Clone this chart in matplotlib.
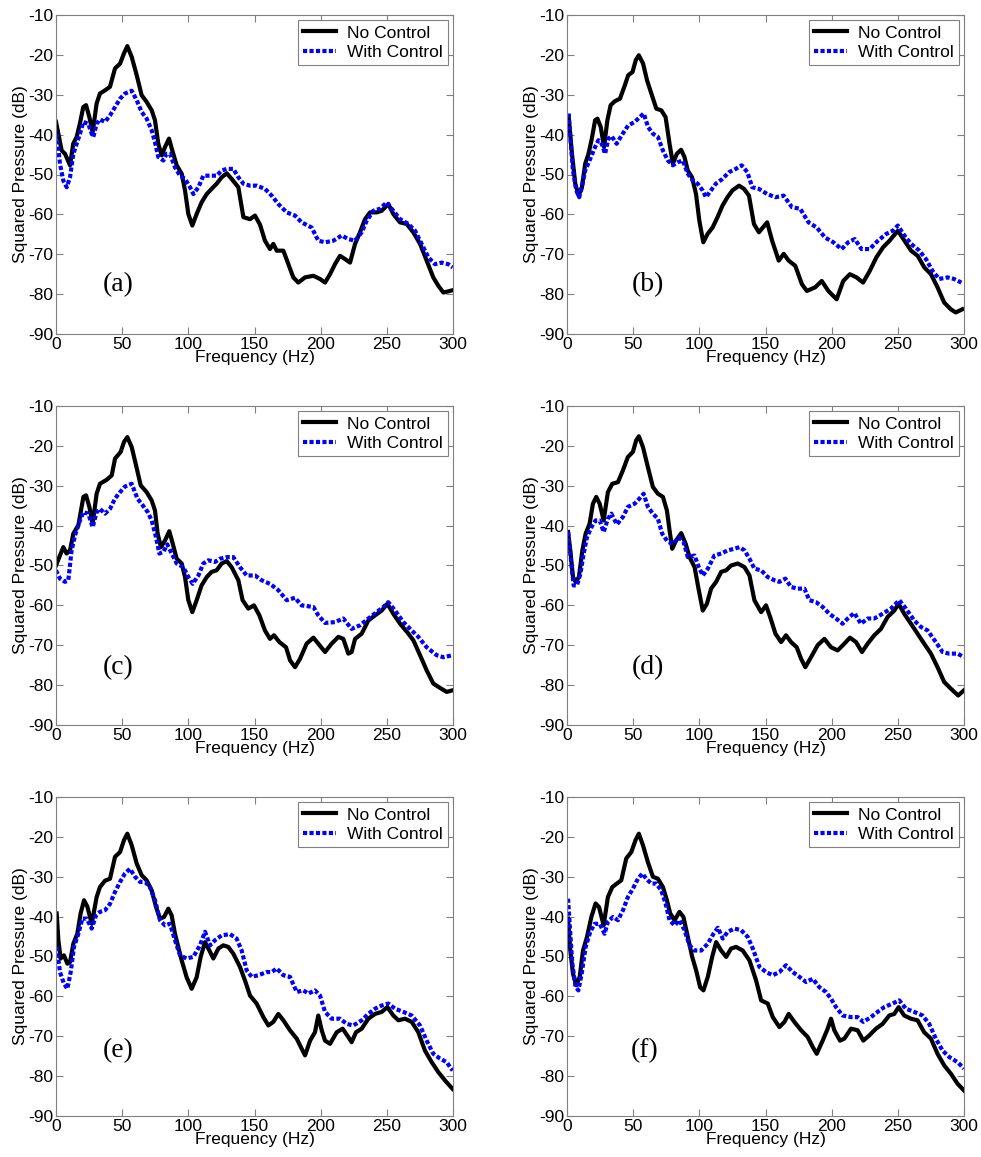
import matplotlib
matplotlib.use('Agg')
import matplotlib.pyplot as plt

# Squared pressure spectra, without and with active control, for six cases

# (a)
a_nc_f = [0, 4.3, 6.8, 10.6, 13, 15.6, 18, 20.6, 22.7, 25.2, 27.7, 30.7, 33.2, 37, 40.8, 44.6, 48.4, 51.4, 53.9, 57.2,
          61, 64.7, 68.5, 72.3, 74.8, 77.3, 79.9, 82.4, 85.4, 87.9, 91.2, 95, 97.5, 100, 103, 106.3, 110, 113.9, 117.6,
          121.4, 125.2, 129, 132.7, 137.8, 141.6, 146.6, 150.4, 154.2, 157.9, 161.7, 164.2, 166.8, 171.8, 175.6, 179.3,
          183.1, 188.2, 194.5, 199.5, 203.3, 207.1, 210.8, 214.6, 218.4, 222.2, 226, 229.7, 233.5, 237.3, 242.3, 246.1,
          251.1, 254.9, 259.9, 265, 270, 275.1, 280.1, 285.1, 288.9, 292.7, 297.7, 300]
a_nc_db = [-36.8, -44, -44.8, -47.7, -42.3, -40.6, -37.3, -33.1, -32.6, -35.6, -39.4, -32.2, -29.7, -28.9, -28, -23.4,
           -22.2, -19.6, -17.8, -20.5, -25.1, -30.1, -31.8, -33.9, -36.4, -42.3, -45.2, -43.1, -41, -44, -47.7, -49.8,
           -54, -59.9, -62.8, -59.9, -57, -54.9, -53.6, -52.3, -50.7, -49.7, -51.1, -53.2, -60.7, -61.2, -60.3, -62.6,
           -66.6, -68.7, -67.4, -69.1, -69.1, -72.5, -75.8, -77.1, -75.8, -75.4, -76.2, -77.1, -75, -72.5, -70.4,
           -71.2, -72.1, -67.4, -64.5, -61.2, -59.5, -59.5, -59.1, -57.4, -59.9, -62, -62.4, -64.5, -67.4, -71.6,
           -75.8, -77.9, -79.6, -79.2, -79]
a_wc_f = [0.5, 3, 5.5, 8.1, 10.6, 13.1, 15.6, 18.1, 20.7, 24.4, 27, 28.2, 30.7, 33.2, 37, 40.8, 44.6, 48.4, 52.1, 57.2,
          61, 64.7, 68.5, 72.3, 74.8, 77.3, 81.1, 83.6, 86.1, 89.9, 93.7, 97.5, 101.3, 103.8, 107.6, 111.3, 116.4,
          121.4, 125.2, 129, 134, 137.8, 141.6, 146.6, 151.6, 157.9, 163, 168, 174.3, 180.6, 185.6, 193.2, 198.2,
          203.3, 209.6, 215.9, 220.9, 226, 231, 234.8, 239.8, 244.8, 249.9, 254.9, 260, 266.3, 271.3, 276.3, 281.4,
          286.4, 291.4, 296.5, 299.8]
a_wc_db = [-39.8, -47.3, -51.5, -53.2, -50.7, -44.8, -42.3, -39.8, -36.8, -37.3, -39.8, -40.6, -37.3, -36.2, -36.8,
           -35.2, -33.1, -31, -29.7, -29, -31.4, -34.3, -36, -38.9, -41.9, -45.6, -46.5, -44.8, -44.8, -48.2, -50.3,
           -51.1, -53.2, -54.9, -53.2, -50.3, -50.3, -50.3, -49, -48.6, -48.6, -50.7, -52.3, -52.8, -52.8, -53.6,
           -55.3, -57.4, -59.5, -60.3, -62, -63.3, -66.6, -67, -66.6, -65.3, -66.2, -66.6, -64.5, -61.6, -59.1, -58.6,
           -57, -59.1, -61.2, -62.4, -64.1, -67.4, -70.8, -72.5, -72.1, -72.5, -73.3]

# (b)
b_nc_f = [1.25, 3.75, 6.25, 8.75, 11.25, 13.75, 16.25, 18.75, 21.25, 23, 25.5, 28, 30.5, 33, 36.25, 40, 43.75, 46.25,
          49.5, 52, 54.25, 57.5, 60.5, 63.75, 67.5, 71.25, 74.5, 77.5, 80, 83, 86.25, 88.75, 91.25, 94.5, 97.5, 100,
          103, 106.25, 110, 113.75, 117.5, 121.25, 125, 130, 133.75, 137.5, 141.25, 145, 151.25, 155, 160, 163.75,
          167.5, 172.5, 177.5, 181.25, 187.5, 192.5, 197.5, 203.75, 208.75, 213.75, 218.75, 223.75, 228.75, 233.75,
          238.75, 243.75, 250, 255, 260, 265, 270, 275, 280, 285, 290, 293.75, 298.75]
b_nc_db = [-35.5, -44.8, -52.3, -55.3, -53.2, -47.3, -44.8, -41, -36.4, -36, -38.1, -43.1, -36.4, -32.6, -31.6, -31,
           -27.6, -25.1, -24.3, -21.3, -20.1, -22.2, -26.4, -29.7, -33.5, -33.9, -35.6, -42.3, -47.3, -44.8, -43.8,
           -45.6, -49, -50.7, -54.9, -61.6, -67, -64.9, -63.3, -60.7, -57.8, -55.7, -54, -52.8, -53.6, -55.3, -62.4,
           -64.5, -62, -66.6, -71.6, -69.9, -71.6, -72.9, -77.5, -79.2, -78.3, -76.7, -79.2, -81.3, -76.7, -75, -75.8,
           -77.1, -74.2, -70.8, -68.3, -66.6, -64.1, -66.6, -69.1, -70.4, -73.3, -75, -78.3, -82.1, -83.8, -84.6,
           -83.8]
b_wc_f = [1.25, 2.5, 4.5, 7, 9.25, 11.25, 13.75, 17.5, 21.25, 23.75, 26.25, 28.75, 31.25, 33.75, 37.5, 41.25, 46.25,
          51.25, 55, 58, 61.25, 65, 68.75, 72.5, 76.25, 80, 83.75, 87.5, 91.25, 95, 98.75, 102.5, 105, 108.75, 112.5,
          117.5, 122.5, 127.5, 132, 136.25, 140, 145, 151.25, 157.5, 163.75, 170, 176.25, 182.5, 188.75, 195, 201.25,
          207.5, 212.5, 217.5, 222.5, 228.75, 235, 241.25, 246.25, 250, 255, 260, 266.25, 271.25, 276.25, 281.25,
          287.5, 292.5, 298]
b_wc_db = [-34.7, -40.6, -49, -54, -55.7, -53.2, -49, -46.1, -43.1, -41.4, -42.3, -44.8, -41, -40.4, -42.3, -40.2,
           -37.7, -36.8, -35.6, -34.7, -38.1, -39.8, -40.6, -44, -46.5, -47.7, -46.9, -46.5, -49.8, -51.5, -52.3, -54,
           -55.7, -54, -52.3, -51.1, -49.4, -48.6, -47.7, -49.4, -53.2, -53.6, -54.9, -55.7, -55.3, -58.2, -58.6, -62,
           -63.3, -65.8, -67, -68.7, -67, -66.2, -68.7, -68.7, -66.6, -64.9, -64.1, -62.8, -65.3, -67.4, -69.1, -71.2,
           -74.2, -76.2, -75.8, -76.2, -77.1]

# (c)
c_nc_f = [0, 2.5, 5.5, 8, 10.6, 13.1, 16.9, 20.7, 22.7, 25.2, 27.7, 30.7, 33.2, 38.3, 42.1, 44.6, 48.9, 51.4, 53.9,
          57.2, 60.5, 64, 68.5, 72.3, 74.8, 76.8, 79.3, 82.4, 85.6, 88.2, 91.2, 95, 97.5, 100, 103, 106.3, 110, 113.9,
          117.6, 121.4, 125.2, 129, 132.7, 137.8, 141, 145.3, 149.6, 153.7, 157.9, 161.7, 164.7, 168.8, 173.8, 176.9,
          180.6, 184.4, 189.4, 194.5, 198.2, 203.3, 208.3, 213.4, 217.1, 220.9, 223.4, 226, 231, 236, 241.1, 246.1,
          250.4, 254.9, 260, 266.3, 270.1, 275.1, 280.1, 285.1, 290.2, 295.2, 299.7]
c_nc_db = [-50, -47.9, -45.4, -47, -46.2, -42, -39.9, -32.8, -32.4, -35.3, -39.5, -32, -29.5, -28.5, -27.4, -23.2,
           -21.5, -19, -17.8, -20.3, -24.9, -29.9, -31.6, -33.7, -36.2, -42, -45.4, -43.7, -41.4, -44.5, -48.3, -49.5,
           -52.9, -58.7, -61.7, -58.7, -55, -52.9, -51.6, -51.2, -49.5, -48.9, -50.4, -53.7, -58.7, -60.8, -60, -62.5,
           -66.3, -68.4, -67.5, -69.2, -70.5, -73.8, -75.5, -73.4, -69.6, -68.1, -69.6, -71.7, -69.6, -67.9, -68.4,
           -72.1, -71.7, -68.4, -67.1, -63.8, -62.5, -61.3, -59.6, -62.1, -64.6, -67.1, -68.8, -72.5, -76.3, -79.6,
           -80.7, -81.7, -81.3]
c_wc_f = [0, 3, 6.8, 9.3, 11.8, 14.4, 18.1, 20.7, 24.4, 27.7, 30.7, 33.2, 37, 40.8, 44.6, 48.4, 52.1, 57.2, 61.5,
          65.5, 69.3, 72.3, 75.6, 78.1, 81.1, 84.1, 87.4, 91.2, 96.2, 100, 103.3, 107.6, 111.3, 115.1, 120.2, 123.9,
          129, 134, 139, 144.1, 150.4, 155.4, 161.7, 168, 174.3, 180.6, 185.6, 194.5, 198.2, 203.3, 210.8, 217.1,
          223.4, 229.7, 236, 242.3, 247.4, 251.1, 256.2, 262.5, 268.8, 273.8, 280.1, 287.7, 292.7, 299.7]
c_wc_db = [-51.2, -53.3, -54.1, -53.7, -46.2, -42.4, -38.7, -36.6, -37, -40.4, -36.6, -35.8, -37, -35.8, -33.2,
           -31.6, -30.2, -29.5, -33.2, -34.9, -36.6, -38.7, -42.9, -47, -46.6, -44.7, -47, -49.5, -50.4, -52.9, -54.6,
           -52.5, -49.5, -48.7, -49.1, -48.3, -47.9, -47.9, -50.4, -52.5, -52.5, -53.7, -54.6, -56.2, -58.7, -58.1,
           -60, -60.4, -62.5, -64.4, -64.2, -63.3, -65.9, -65, -63.3, -61.7, -60.4, -59.2, -61.3, -64.2, -66.3, -67.9,
           -70.5, -72.5, -73, -72.5]

# (d)
d_nc_f = [0.8, 2.5, 4.5, 6.5, 9, 11.6, 14.1, 17.1, 19.6, 22.1, 24.7, 27.7, 30.9, 34.2, 38.5, 42.3, 46, 49.8, 52.3,
          54.3, 57.4, 61.1, 64.9, 68.7, 72.5, 75.5, 77.5, 79.5, 82.5, 86.3, 89.6, 92.6, 96.4, 99.6, 102.6, 105.7,
          108.9, 112.7, 116.5, 120.3, 124, 129, 134.1, 137.9, 141.6, 146.7, 150.4, 153.5, 157.5, 161.8, 165.5, 169.3,
          173.6, 176.9, 180.1, 184.4, 189.4, 194.5, 199.5, 204.5, 209.6, 213.8, 218.4, 222.9, 227.2, 232.2, 237.2,
          242.3, 247.3, 250.6, 254.8, 259.9, 264.9, 269.9, 275, 280, 285, 290.1, 295.6, 300]
d_nc_db = [-41.6, -46.2, -52.9, -54.1, -52.9, -46.2, -42, -39.5, -34.5, -32.8, -34.5, -38.7, -31.6, -29.5, -29.1,
           -26.1, -22.8, -21.5, -18.6, -17.6, -20.3, -25.3, -30.3, -32, -32.8, -36.2, -41.2, -45.8, -43.7, -41.9,
           -44.5, -47.9, -50.4, -56.2, -61.3, -59.6, -55.8, -54.1, -51.6, -51.2, -50, -49.5, -50.4, -52.5, -58.7,
           -61.7, -60, -62.9, -67.1, -69.2, -67.5, -69.2, -70.5, -73.4, -75.5, -73, -70, -68.4, -70.5, -71.3, -69.6,
           -68.1, -69.2, -71.7, -69.6, -67.5, -65.9, -62.9, -61.3, -59.6, -62.1, -64.6, -67.1, -69.6, -72.1, -75.5,
           -79.2, -80.9, -82.6, -81.3]
d_wc_f = [0.8, 2.8, 5, 7.5, 10.1, 12.6, 15.1, 18.4, 21.6, 24.7, 27.7, 30.9, 33.5, 37.7, 42.3, 46, 51.1, 54.8, 57.9,
          61.1, 64.9, 68.7, 71.9, 76.2, 80.5, 84.5, 88.1, 91.3, 96.4, 99.6, 102.6, 106.4, 111.4, 116.5, 121.5, 126.5,
          130.3, 134.1, 137.9, 141.6, 146.7, 151.7, 156.7, 160.5, 165, 169.3, 174.3, 179.4, 183.1, 188.2, 193.2,
          198.2, 203.3, 208.3, 212.1, 217.1, 222.1, 227.2, 232.2, 238.5, 244.8, 251.1, 256.1, 262.4, 267.4, 272.5,
          278.7, 283.8, 288.8, 295.1, 300]
d_wc_db = [-41.6, -47.9, -55, -55, -52.1, -47, -42.9, -40.4, -38.7, -38.7, -41.6, -38.3, -37, -39.7, -37.8, -35.3,
           -34.5, -33.2, -32, -35.3, -37, -38.3, -42, -44.1, -44.5, -42.9, -44.1, -47.9, -47.5, -50.4, -52.5, -50.8,
           -47.5, -47, -46.2, -45.8, -45.4, -46.2, -48.3, -50.8, -51.2, -52.9, -53.7, -54.1, -53.3, -55.4, -55.8,
           -55.8, -58.7, -59.2, -60.4, -62.1, -63.3, -64.6, -63.3, -61.9, -64.6, -63.3, -63.3, -62.1, -60.8, -58.7,
           -60.8, -63.8, -65.4, -66.3, -69.2, -71.7, -72.1, -72.1, -73]

# (e)
e_nc_f = [0.5, 1.8, 3.5, 6, 8.6, 10.6, 13.1, 16.1, 18.6, 21.2, 23.7, 27, 30.7, 33.2, 37, 40.8, 44.6, 48.4, 51.4,
          53.9, 57.2, 61, 64.7, 68.5, 72.3, 75.6, 78.6, 81.6, 84.9, 87.4, 89.9, 92.4, 95, 98.7, 102.5, 106.3, 109.3,
          112.6, 115.9, 118.9, 122.7, 126.4, 130.2, 134, 139, 142.8, 146.6, 151.6, 156.7, 160.5, 164.2, 168, 171.8,
          176.8, 181.9, 185.6, 188.2, 192, 195.7, 198.2, 200.8, 203.3, 207.1, 212.1, 216.6, 220.9, 223.4, 226.7, 231,
          236, 241.1, 246.1, 250.4, 254.9, 258.7, 263.7, 268.8, 273.8, 278.8, 283.9, 288.9, 294, 299.7]
e_nc_db = [-39.2, -45.9, -50.5, -49.7, -51.8, -51.4, -46.8, -44.3, -39.2, -35.9, -37.5, -41.8, -35.1, -32.6, -31,
           -30.5, -25, -23.8, -20.8, -19.2, -22.1, -26.7, -29.6, -30.9, -33.4, -37.6, -40.5, -40.1, -38, -39.7, -44.3,
           -47.6, -51, -55.2, -58.1, -55.2, -50.1, -46.4, -48.5, -50.5, -48, -47.2, -47.6, -49.3, -52.6, -56, -59.8,
           -61.8, -65.2, -67.3, -66.4, -64.4, -66, -68.5, -70.6, -73.1, -74.8, -71.1, -69, -64.8, -68.5, -71.1, -71.9,
           -69, -68.1, -70.2, -71.5, -69, -68.1, -65.6, -64.4, -63.9, -62.7, -64.8, -66, -65.6, -66.4, -69, -73.6,
           -76.5, -79, -81.1, -83.2]
e_wc_f = [0.5, 3, 6, 8.6, 11.1, 13.6, 16.9, 19.9, 23.2, 27, 30.2, 33.2, 37, 40.8, 44.6, 48.4, 52.1, 55.9, 59.7,
          63.5, 67.3, 71, 74.8, 78.6, 82.4, 86.1, 89.9, 93.7, 98.7, 103.8, 108.8, 112.6, 116.4, 120.2, 125.2, 131.5,
          136.5, 140.3, 144.1, 147.9, 152.9, 159.2, 163, 166.8, 171.8, 176.8, 181.9, 186.9, 190.7, 195.7, 199.5,
          203.3, 208.3, 214.6, 219.7, 224.7, 231, 236, 241.1, 246.1, 251.1, 256.2, 262.5, 268.8, 275.1, 280.1, 285.1,
          290.2, 295.2, 299.7]
e_wc_db = [-47.6, -53.9, -56.8, -58.1, -53.9, -47.6, -44.3, -40.5, -40.5, -43, -39.7, -38.8, -38.4, -36.8, -33.8,
           -31.3, -29.2, -28, -30, -31.3, -31.3, -32.6, -35.9, -40.9, -42.2, -41.8, -45.9, -49.7, -50.5, -50.1, -47.2,
           -43.8, -47.2, -45.9, -44.7, -44.4, -45.5, -48.5, -53.5, -55.1, -54.7, -53.9, -53.9, -53, -54.7, -55.1,
           -58.9, -58.5, -59.3, -58.5, -59.8, -63.9, -65.6, -65.6, -66.9, -67.3, -66, -64.4, -63.1, -62.3, -61.8,
           -63.1, -63.9, -64.8, -67.3, -71.1, -74.4, -75.6, -76.5, -78.6]

# (f)
f_nc_f = [0.8, 2.5, 4.5, 7, 9.6, 12.1, 15.1, 18.4, 21.6, 24.2, 27.7, 30.9, 34.2, 37.7, 41, 44.8, 48.6, 51.8, 54.3,
          57.4, 61.1, 64.9, 68.7, 72.5, 75.5, 78, 81.3, 85, 88, 91.3, 94.6, 97.6, 100.6, 103.1, 106.4, 109.7, 112.7,
          116.5, 120.3, 124, 127.8, 132.8, 137.9, 142.9, 146.7, 151.7, 155.5, 160.5, 164.3, 167.5, 171.8, 176.9,
          181.9, 185.7, 188.7, 193.2, 197, 199.5, 202, 206.3, 209.6, 214.6, 219.6, 223.9, 228.4, 233.5, 238.5, 243.5,
          247.3, 250.6, 254.8, 259.9, 264.9, 269.9, 275, 280, 285, 290.1, 295.1, 300]
f_nc_db = [-40.5, -48.5, -54.3, -57.2, -55.1, -48.5, -45.1, -40.1, -36.7, -37.6, -42.2, -35.1, -32.6, -31.7, -30.9,
           -25.4, -23.8, -20.8, -19.2, -22.1, -26.3, -30, -30.5, -32.6, -35.9, -39.2, -40.9, -38.8, -40.1, -45.1,
           -50.1, -53.5, -57.7, -58.5, -55.1, -50.1, -46.4, -48.5, -50.1, -48, -47.6, -48.5, -51, -56, -61, -61.8,
           -65.2, -67.7, -66.4, -64.4, -66.4, -68.5, -70.2, -72.7, -74.4, -71.1, -68.1, -65.6, -68.5, -71.1, -70.6,
           -68.1, -68.5, -71.1, -69.8, -68.1, -66.9, -64.8, -64.4, -62.7, -64.8, -65.6, -66, -69, -70.6, -74.4,
           -77.3, -79.4, -81.9, -83.6]
f_wc_f = [0.8, 2, 4, 6.5, 8.6, 11.1, 14.1, 17.6, 20.9, 24.7, 28.4, 30.9, 34.7, 38.5, 42.3, 46, 49.8, 53.6, 56.9,
          59.9, 63.6, 67.4, 71.2, 74.5, 77.5, 81.3, 85, 88.8, 92.6, 96.4, 101.4, 106.4, 110.7, 114, 117.7, 121.5,
          126.5, 131.6, 136.6, 140.4, 145.4, 150.4, 155.5, 160.5, 165.5, 170.6, 175.6, 180.6, 185.7, 190.7, 195.7,
          199.5, 203.3, 208.3, 214.6, 219.6, 223.9, 229.7, 234.7, 239.7, 246, 251.1, 256.1, 262.4, 268.7, 273.7,
          278.7, 283.8, 288.8, 295.1, 300]
f_wc_db = [-35.5, -41.8, -51.8, -57.7, -58.5, -54.3, -47.6, -43.8, -41.8, -41.8, -44.3, -41.3, -40.1, -40.9, -38.4,
           -35.1, -33, -30.5, -29.2, -30.5, -31.7, -31.7, -33.4, -36.7, -40.9, -42.2, -40.9, -43.4, -47.2, -48.5,
           -48.5, -46.8, -44.3, -42.8, -45.5, -43.8, -43, -43.4, -45.1, -48, -52.6, -53.9, -54.7, -53.9, -52.2, -53.9,
           -55.1, -56.4, -55.6, -57.7, -58.9, -60.6, -62.7, -64.8, -65.2, -65.2, -66.4, -65.2, -63.9, -62.7, -61.8,
           -61, -63.1, -63.9, -64.8, -66.9, -70.6, -73.6, -75.2, -76.5, -78.1]

panel_labels = ['(a)', '(b)', '(c)', '(d)', '(e)', '(f)']
label_x = [47, 61, 47, 61, 47, 59]
label_y = [-77.5, -77.5, -75.5, -75.5, -73.5, -73.5]
series = [(a_nc_f, a_nc_db, a_wc_f, a_wc_db),
          (b_nc_f, b_nc_db, b_wc_f, b_wc_db),
          (c_nc_f, c_nc_db, c_wc_f, c_wc_db),
          (d_nc_f, d_nc_db, d_wc_f, d_wc_db),
          (e_nc_f, e_nc_db, e_wc_f, e_wc_db),
          (f_nc_f, f_nc_db, f_wc_f, f_wc_db)]

plt.rcParams['font.family'] = ['Liberation Sans', 'DejaVu Sans']
plt.rcParams['axes.unicode_minus'] = False

W, H = 981, 1157
fig = plt.figure(figsize=(W / 100, H / 100), dpi=100)

lefts = [56, 567]
tops = [15, 406, 797]
ax_w, ax_h = 397, 319
frame_col = '#808080'
fs = 12.5

for i in range(6):
    row, col = i // 2, i % 2
    ax = fig.add_axes([lefts[col] / W, 1 - (tops[row] + ax_h) / H, ax_w / W, ax_h / H])
    nc_f, nc_db, wc_f, wc_db = series[i]
    ax.plot(nc_f, nc_db, color='black', lw=3.0, label='No Control')
    ax.plot(wc_f, wc_db, color='#0000ff', lw=3.0, ls=(0, (1.0, 0.55)), label='With Control')
    ax.set_xlim(0, 300)
    ax.set_ylim(-90, -10)
    ax.set_xticks(range(0, 301, 50))
    ax.set_yticks(range(-90, -9, 10))
    ax.tick_params(direction='in', top=True, right=True, length=5, width=0.8,
                   color=frame_col, labelsize=fs, pad=2)
    for sp in ax.spines.values():
        sp.set_color(frame_col)
        sp.set_linewidth(0.8)
    ax.set_xlabel('Frequency (Hz)', fontsize=fs, labelpad=-1)
    ax.set_ylabel('Squared Pressure (dB)', fontsize=fs, labelpad=0)
    ax.text(label_x[i], label_y[i], panel_labels[i], fontsize=20, ha='center', va='center',
            family='Liberation Serif')
    leg = ax.legend(loc='upper right', fontsize=fs, fancybox=False, framealpha=1,
                    edgecolor=frame_col, borderaxespad=0.3, handlelength=1.9,
                    borderpad=0.3, labelspacing=0.25, handletextpad=0.6)
    leg.get_frame().set_linewidth(0.8)

fig.savefig('out.png', dpi=100)
